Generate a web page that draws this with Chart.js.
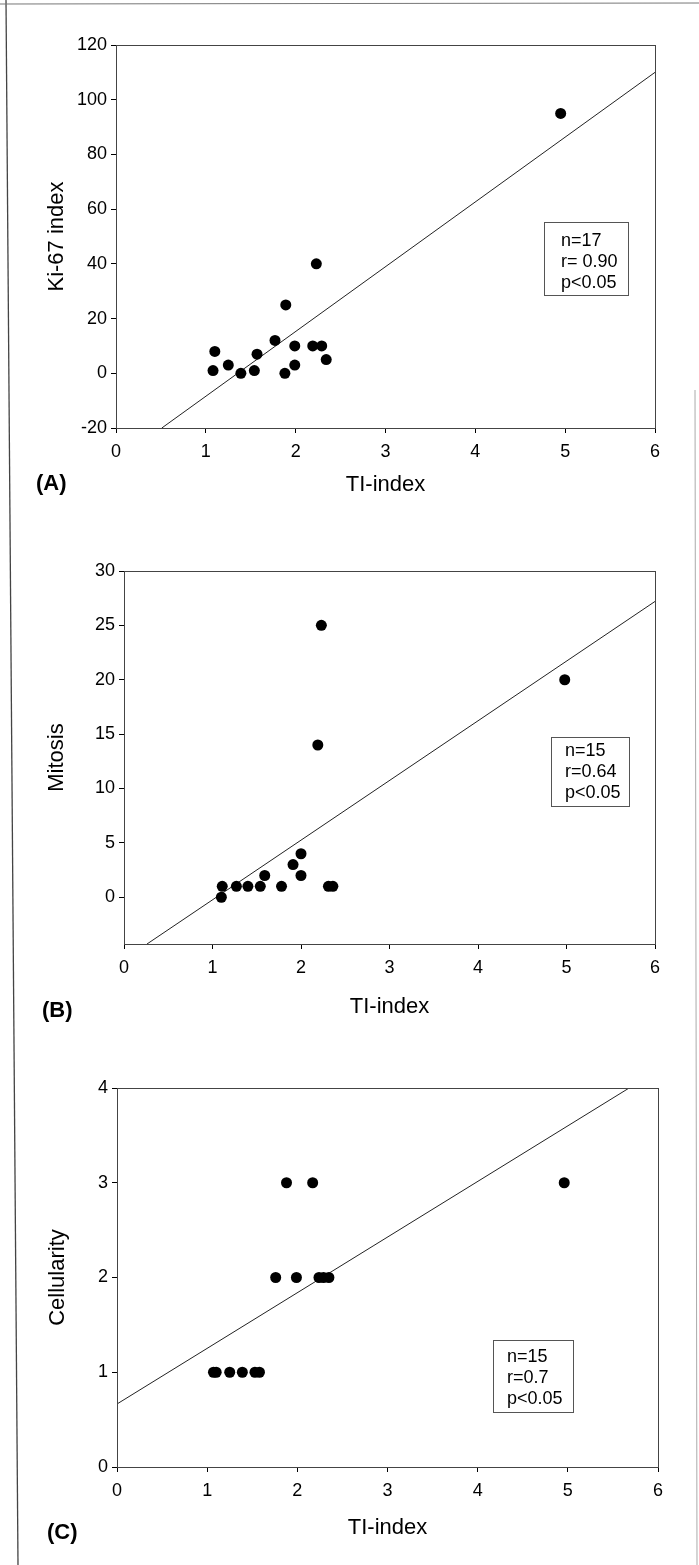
<!DOCTYPE html>
<html><head><meta charset="utf-8">
<script src="https://cdn.jsdelivr.net/npm/chart.js@4/dist/chart.umd.min.js"></script>
<style>
html,body{margin:0;padding:0;background:#fff;}
body{width:699px;height:1565px;position:relative;overflow:hidden;font-family:"Liberation Sans",Arial,sans-serif;}
canvas{position:absolute;left:0;}
.tag{position:absolute;font-weight:bold;font-size:22px;line-height:22px;color:#000;white-space:nowrap;}
.stats{position:absolute;border:1px solid #555;font-size:18px;line-height:21px;color:#000;box-sizing:border-box;white-space:nowrap;}
svg{position:absolute;left:0;top:0;}
</style></head><body>
<svg width="699" height="1565">
  <line x1="6" y1="0" x2="18" y2="1565" stroke="#444" stroke-width="1.3"/>
  <line x1="0" y1="4" x2="699" y2="3" stroke="#777" stroke-width="1"/>
  <line x1="695" y1="390" x2="697" y2="1565" stroke="#aaa" stroke-width="1"/>
</svg>
<canvas id="cA" width="699" height="498" style="top:0px;width:699px;height:498px"></canvas>
<canvas id="cB" width="699" height="520" style="top:500px;width:699px;height:520px"></canvas>
<canvas id="cC" width="699" height="521" style="top:1020px;width:699px;height:521px"></canvas>
<div class="tag" style="left:36px;top:472px">(A)</div>
<div class="tag" style="left:42px;top:999px">(B)</div>
<div class="tag" style="left:47px;top:1521px">(C)</div>
<div class="stats" id="sA" style="left:544px;top:222px;width:85px;height:74px;padding:7px 0 0 16px"></div>
<div class="stats" id="sB" style="left:551px;top:737px;width:79px;height:70px;padding:2px 0 0 13px"></div>
<div class="stats" id="sC" style="left:493px;top:1340px;width:81px;height:73px;padding:5px 0 0 13px"></div>
<script>
// ---- data ----
const xTitle = "TI-index";
const xTicks = [0, 1, 2, 3, 4, 5, 6];

const tiA  = [4.95, 2.23, 1.89, 1.77, 1.10, 1.57, 1.25, 1.99, 1.99, 2.19, 2.29, 2.34, 1.08, 1.39, 1.54, 1.88];
const ki67 = [95, 40, 25, 12, 8, 7, 3, 10, 3, 10, 10, 5, 1, 0, 1, 0];
const fitAX = [0.51, 6];
const fitAY = [-20, 110];
const yTicksA = [-20, 0, 20, 40, 60, 80, 100, 120];
const statsA = ["n=17", "r= 0.90", "p<0.05"];

const tiB = [2.23, 4.98, 2.19, 1.11, 1.10, 1.27, 1.40, 1.54, 1.59, 1.78, 1.91, 2.00, 2.00, 2.31, 2.36];
const mitosis = [25, 20, 14, 1, 0, 1, 1, 1, 2, 1, 3, 4, 2, 1, 1];
const fitBX = [0.26, 6];
const fitBY = [-4.3, 27.2];
const yTicksB = [0, 5, 10, 15, 20, 25, 30];
const statsB = ["n=15", "r=0.64", "p<0.05"];

const tiC = [1.07, 1.10, 1.25, 1.39, 1.53, 1.58, 1.76, 1.99, 2.24, 2.29, 2.35, 1.88, 2.17, 4.96];
const cellularity = [1, 1, 1, 1, 1, 1, 2, 2, 2, 2, 2, 3, 3, 3];
const fitCX = [0, 5.68];
const fitCY = [0.665, 4];
const yTicksC = [0, 1, 2, 3, 4];
const statsC = ["n=15", "r=0.7", "p<0.05"];

// ---- rendering ----
const FONT = '"Liberation Sans", Arial, sans-serif';
const framePlugin = {
  id: 'frame',
  afterDatasetsDraw(chart) {
    const a = chart.chartArea, ctx = chart.ctx;
    ctx.save();
    ctx.strokeStyle = '#444';
    ctx.lineWidth = 1;
    ctx.strokeRect(Math.round(a.left) + 0.5, Math.round(a.top) + 0.5,
                   Math.round(a.right - a.left), Math.round(a.bottom - a.top));
    ctx.restore();
  }
};

function pts(xs, ys) { return xs.map((x, i) => ({x: x, y: ys[i]})); }

function makePanel(id, xs, ys, fx, fy, yTitle, yTicks, yMin, yMax, L) {
  new Chart(document.getElementById(id), {
    type: 'scatter',
    data: {
      datasets: [
        { data: pts(xs, ys), pointRadius: 5.5, pointHoverRadius: 5.5,
          backgroundColor: '#000', borderColor: '#000', borderWidth: 0, order: 1 },
        { data: pts(fx, fy), showLine: true, pointRadius: 0, borderColor: '#222',
          borderWidth: 1, fill: false, order: 2 }
      ]
    },
    options: {
      responsive: false, animation: false, events: [],
      layout: { padding: { left: L.padLeft, right: L.padRight, top: L.padTop, bottom: 0 } },
      plugins: { legend: { display: false }, tooltip: { enabled: false } },
      scales: {
        x: {
          type: 'linear', min: 0, max: 6,
          afterBuildTicks: s => { s.ticks = xTicks.map(v => ({value: v})); },
          afterFit: s => { s.height = L.xH; },
          border: { display: false },
          grid: { drawOnChartArea: false, drawTicks: true, tickLength: 5, color: '#000' },
          ticks: { color: '#000', padding: L.xPad, font: { family: FONT, size: 18 }, maxRotation: 0 },
          title: { display: true, text: xTitle, color: '#000', padding: 0, font: { family: FONT, size: 22 } }
        },
        y: {
          type: 'linear', min: yMin, max: yMax,
          afterBuildTicks: s => { s.ticks = yTicks.map(v => ({value: v})); },
          afterFit: s => { s.width = L.yW; },
          border: { display: false },
          grid: { drawOnChartArea: false, drawTicks: true, tickLength: 5, color: '#000' },
          ticks: { color: '#000', padding: 4, font: { family: FONT, size: 18 } },
          title: { display: true, text: yTitle, color: '#000', padding: 0, font: { family: FONT, size: 22 } }
        }
      }
    },
    plugins: [framePlugin]
  });
}

makePanel('cA', tiA, ki67, fitAX, fitAY, 'Ki-67 index', yTicksA, -20, 120,
  { padLeft: 44, padRight: 44, padTop: 45, xH: 70, yW: 72, xPad: 8 });
makePanel('cB', tiB, mitosis, fitBX, fitBY, 'Mitosis', yTicksB, -4.3, 30,
  { padLeft: 44, padRight: 44, padTop: 71, xH: 76, yW: 80, xPad: 8 });
makePanel('cC', tiC, cellularity, fitCX, fitCY, 'Cellularity', yTicksC, 0, 4,
  { padLeft: 45, padRight: 41, padTop: 68, xH: 74, yW: 72, xPad: 8 });

function fillStats(id, lines) {
  const el = document.getElementById(id);
  lines.forEach(t => { const d = document.createElement('div'); d.textContent = t; el.appendChild(d); });
}
fillStats('sA', statsA);
fillStats('sB', statsB);
fillStats('sC', statsC);
</script>
</body></html>
